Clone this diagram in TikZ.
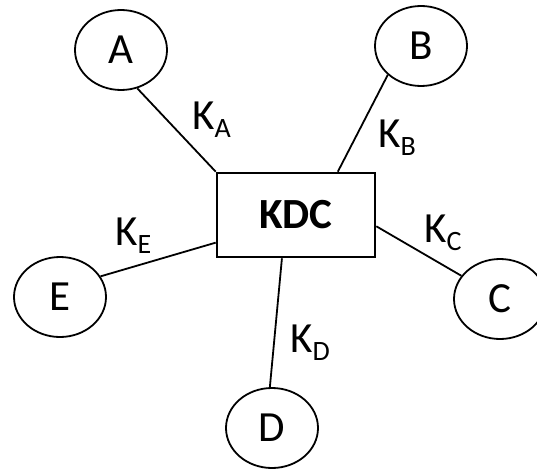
\documentclass[tikz,border=0pt]{standalone}
\usepackage{fontspec}
\setmainfont{Carlito}
\usetikzlibrary{shapes.geometric, positioning}

% key name with its subscript
\newcommand\keyof[1]{K\raisebox{-8pt}{\fontsize{28}{30}\selectfont #1}}

\begin{document}
\begin{tikzpicture}[
  x=1pt, y=1pt,
  every node/.style={font=\fontsize{43}{48}\selectfont},
  station/.style={ellipse, draw, line width=1.8pt, inner sep=0pt,
    minimum width=92pt, minimum height=80pt},
  kdcbox/.style={rectangle, draw, line width=2.6pt, inner sep=0pt,
    minimum width=158pt, minimum height=84pt, font=\fontsize{43}{48}\selectfont\bfseries},
  link/.style={line width=1.8pt},
  keylabel/.style={anchor=base west, inner sep=0pt}
]

\useasboundingbox (0,0) rectangle (537,472);

\node[kdcbox] (kdc) at (296,257) {KDC};

\node[station] (userA) at (121,422) {A};
\node[station] (userB) at (421,426) {B};
\node[station] (userC) at (500,173) {C};
\node[station] (userD) at (272,44) {D};
\node[station] (userE) at (60,175) {E};

% Links from each party to the KDC
\draw[link] (userA.-67) -- (kdc.north west);
\draw[link] (userB.221) -- (kdc.46);
\draw[link] (userC.149) -- (kdc.-8);
\draw[link] (userD.93) -- (kdc.252);
\draw[link] (userE.27) -- (kdc.199);

% Shared keys
\node[keylabel] (keyA) at (192,342) {\keyof{A}};
\node[keylabel] (keyB) at (378,325) {\keyof{B}};
\node[keylabel] (keyC) at (424,230) {\keyof{C}};
\node[keylabel] (keyD) at (290,120) {\keyof{D}};
\node[keylabel] (keyE) at (115,227) {\keyof{E}};

\end{tikzpicture}
\end{document}
